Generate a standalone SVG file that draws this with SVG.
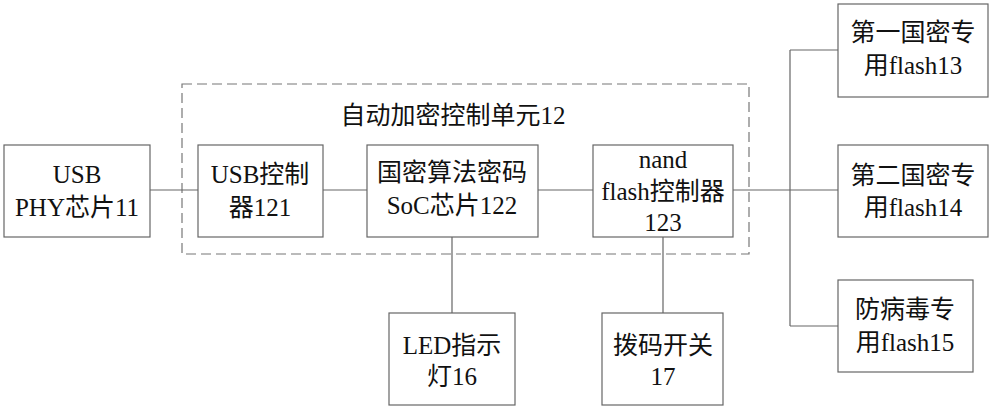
<svg xmlns="http://www.w3.org/2000/svg" width="1000" height="409" viewBox="0 0 1000 409">
<style>
.box{fill:#fff;stroke:#666;stroke-width:1.2}
.dash{fill:none;stroke:#777;stroke-width:1.2;stroke-dasharray:10,5}
.ln{fill:none;stroke:#666;stroke-width:1.2}
text{font-family:"Liberation Serif","Noto Sans CJK SC",serif;font-size:25px;fill:#111;text-anchor:middle}
</style>
<rect width="1000" height="409" fill="#fff"/>
<g id="unit12">
<rect class="dash" x="182" y="84" width="567" height="170"/>
<text x="453" y="124">自动加密控制单元12</text>
</g>
<g id="connectors">
<path class="ln" d="M150 190H198M323 190H367M538 190H593M733 190H838M790 50V326M790 50H838M790 326H838M452 237V313M663 237V313"/>
</g>
<g id="usbphy">
<rect class="box" x="4" y="145" width="146" height="92"/>
<text x="77" y="183">USB</text>
<text x="77" y="216">PHY芯片11</text>
</g>
<g id="usbctrl">
<rect class="box" x="198" y="145" width="125" height="92"/>
<text x="260" y="183">USB控制</text>
<text x="260" y="216">器121</text>
</g>
<g id="soc">
<rect class="box" x="367" y="145" width="171" height="92"/>
<text x="452" y="181">国密算法密码</text>
<text x="452" y="214">SoC芯片122</text>
</g>
<g id="nand">
<rect class="box" x="593" y="145" width="140" height="92"/>
<text x="663" y="168">nand</text>
<text x="663" y="200">flash控制器</text>
<text x="663" y="231">123</text>
</g>
<g id="flash13">
<rect class="box" x="838" y="4" width="150" height="93"/>
<text x="913" y="41">第一国密专</text>
<text x="913" y="74">用flash13</text>
</g>
<g id="flash14">
<rect class="box" x="838" y="145" width="150" height="92"/>
<text x="913" y="184">第二国密专</text>
<text x="913" y="216">用flash14</text>
</g>
<g id="flash15">
<rect class="box" x="838" y="280" width="135" height="92"/>
<text x="905" y="318">防病毒专</text>
<text x="905" y="351">用flash15</text>
</g>
<g id="led">
<rect class="box" x="389" y="313" width="126" height="92"/>
<text x="452" y="354">LED指示</text>
<text x="452" y="385">灯16</text>
</g>
<g id="switch">
<rect class="box" x="602" y="313" width="121" height="92"/>
<text x="663" y="354">拨码开关</text>
<text x="663" y="385">17</text>
</g>
</svg>
